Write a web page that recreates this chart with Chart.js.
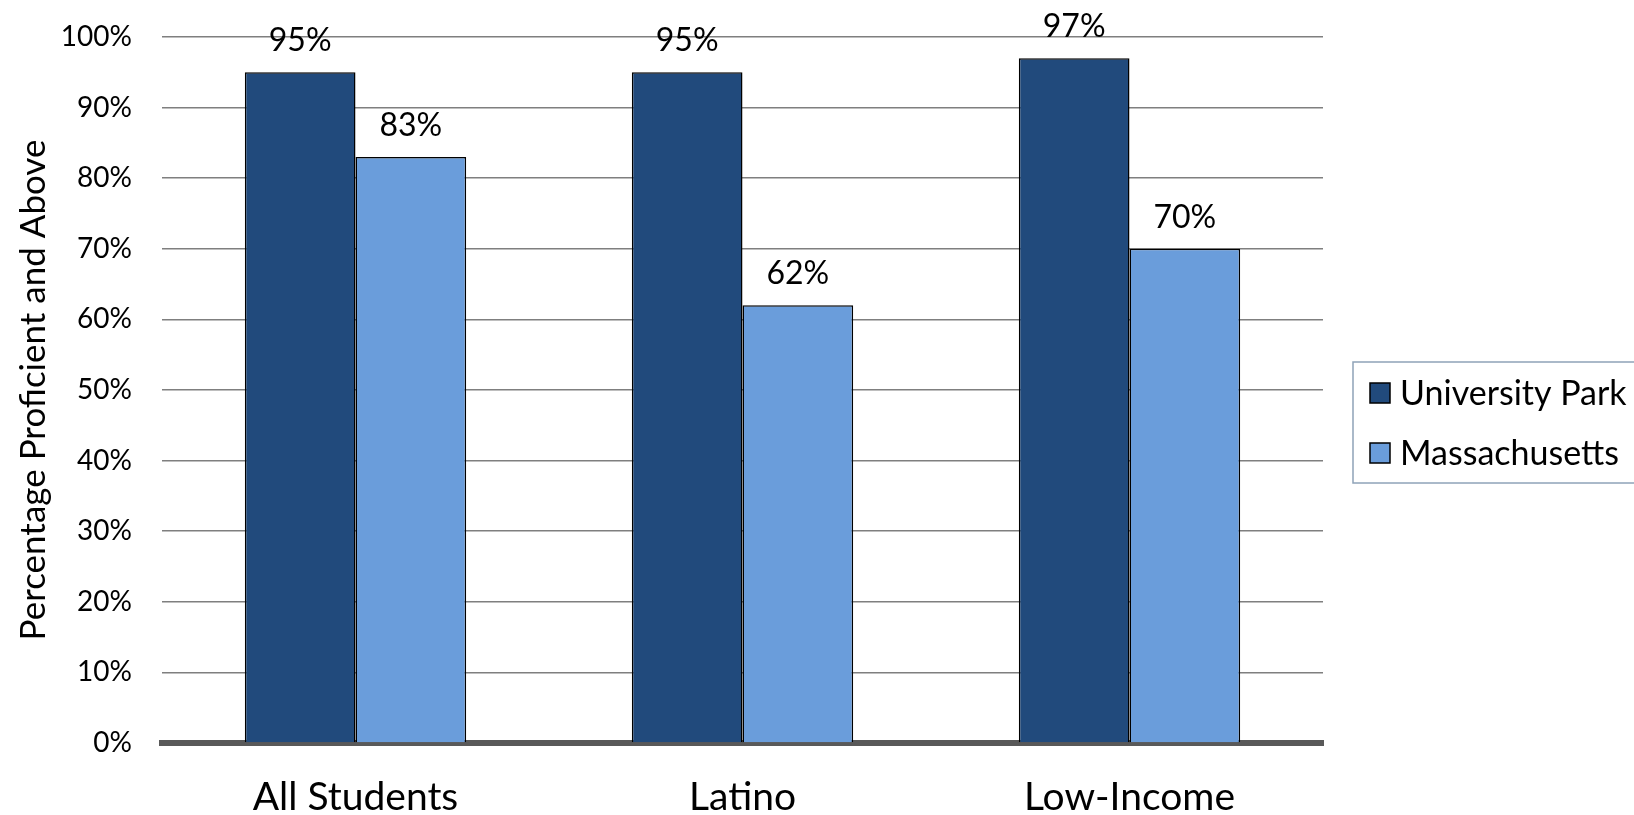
<!DOCTYPE html>
<html>
<head>
<meta charset="utf-8">
<script src="https://cdn.jsdelivr.net/npm/chart.js@4/dist/chart.umd.min.js"></script>
<style>
  html, body { margin: 0; padding: 0; background: #ffffff; }
  #wrap { width: 1634px; height: 815px; }
</style>
</head>
<body>
<div id="wrap"><canvas id="chart" width="1634" height="815"></canvas></div>
<script>
// Proficiency rates by student group
const categories = ['All Students', 'Latino', 'Low-Income'];
const universityPark = [95, 95, 97];
const massachusetts = [83, 62, 70];
const seriesNames = ['University Park', 'Massachusetts'];
const yTicks = [0, 10, 20, 30, 40, 50, 60, 70, 80, 90, 100];

const FONT = 'Lato, "Open Sans", sans-serif';
const COLORS = ['#214A7C', '#6A9DDB'];

// Percentage labels above each bar
const valueLabels = {
  id: 'valueLabels',
  afterDatasetsDraw(chart) {
    const ctx = chart.ctx;
    ctx.save();
    ctx.fillStyle = '#000';
    ctx.font = '32px ' + FONT;
    ctx.textAlign = 'center';
    ctx.textBaseline = 'alphabetic';
    chart.data.datasets.forEach((ds, i) => {
      chart.getDatasetMeta(i).data.forEach((bar, j) => {
        ctx.fillText(ds.data[j] + '%', bar.x, bar.y - 21);
      });
    });
    ctx.restore();
  }
};

// Boxed legend on the right
const sideLegend = {
  id: 'sideLegend',
  afterDraw(chart) {
    const ctx = chart.ctx;
    ctx.save();
    ctx.strokeStyle = '#8ea3b8';
    ctx.lineWidth = 1.5;
    ctx.strokeRect(1353, 362, 290, 121);
    ctx.font = '34px ' + FONT;
    ctx.textBaseline = 'middle';
    ctx.textAlign = 'left';
    const rows = [393, 453];
    chart.data.datasets.forEach((ds, i) => {
      const y = rows[i];
      ctx.fillStyle = ds.backgroundColor;
      ctx.fillRect(1370, y - 10, 20, 20);
      ctx.strokeStyle = '#000';
      ctx.lineWidth = 1.5;
      ctx.strokeRect(1370, y - 10, 20, 20);
      ctx.fillStyle = '#000';
      ctx.fillText(ds.label, 1400, y + 1);
    });
    ctx.restore();
  }
};

new Chart(document.getElementById('chart'), {
  type: 'bar',
  data: {
    labels: categories,
    datasets: [
      { label: seriesNames[0], data: universityPark, backgroundColor: COLORS[0] },
      { label: seriesNames[1], data: massachusetts, backgroundColor: COLORS[1] }
    ]
  },
  options: {
    responsive: false,
    animation: false,
    devicePixelRatio: 1,
    layout: { padding: { left: 0, top: 37, right: 311, bottom: 0 } },
    datasets: {
      bar: {
        categoryPercentage: 0.572,
        barPercentage: 1,
        borderColor: '#000',
        borderWidth: 1.5
      }
    },
    plugins: {
      legend: { display: false },
      tooltip: { enabled: false }
    },
    scales: {
      x: {
        grid: { display: false, drawTicks: false },
        border: { display: true, color: '#595959', width: 6 },
        ticks: { color: '#000', font: { family: FONT, size: 39 }, padding: 31 },
        afterFit(scale) { scale.height = 72; }
      },
      y: {
        min: 0,
        max: 100,
        afterBuildTicks(scale) { scale.ticks = yTicks.map(v => ({ value: v })); },
        // invisible tick marks keep the labels 30px clear of the plot
        grid: {
          color: '#7f7f7f',
          lineWidth: 1.5,
          drawTicks: true,
          tickLength: 30,
          tickColor: 'rgba(0,0,0,0)'
        },
        border: { display: false },
        ticks: {
          color: '#000',
          font: { family: FONT, size: 28 },
          padding: 0,
          callback: v => v + '%'
        },
        title: {
          display: true,
          text: 'Percentage Proficient and Above',
          color: '#000',
          font: { family: FONT, size: 35 },
          padding: { top: 13, bottom: 0 }
        },
        afterFit(scale) { scale.width = 162; }
      }
    }
  },
  plugins: [valueLabels, sideLegend]
});
</script>
</body>
</html>
